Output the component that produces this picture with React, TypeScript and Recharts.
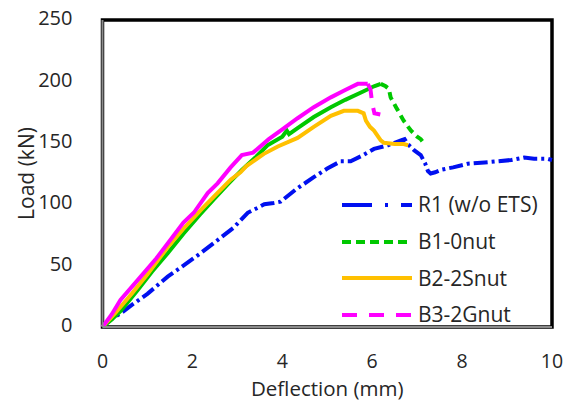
import React from 'react';
import { LineChart, Line, XAxis, YAxis, ReferenceArea, Legend } from 'recharts';

// ---- Data (deflection in mm, load in kN) ----
const r1X = [0, 0.18, 0.4, 0.69, 1.0, 1.45, 1.8, 2.18, 2.5, 2.92, 3.23, 3.45, 3.6, 3.81, 3.96, 4.3, 4.7, 5.0, 5.3, 5.52, 5.8, 6.04, 6.35, 6.64, 6.72, 6.79, 6.93, 7.08, 7.18, 7.24, 7.3, 7.4, 7.53, 7.8, 8.13, 8.5, 8.8, 9.1, 9.38, 9.6, 9.9, 10.0];
const r1Y = [0, 6, 11, 19, 27, 41, 50, 60, 69, 81, 93, 97, 100, 101, 102, 112, 122, 129, 135, 135, 140, 145, 148, 152, 153, 149, 144, 140, 133, 127, 125, 126, 128, 130, 133, 134, 135, 136, 138, 137, 137, 136];

const b1RiseX = [0, 0.2, 0.4, 0.78, 1.1, 1.45, 1.8, 2.18, 2.5, 2.78, 3.1, 3.4, 3.67, 4.0, 4.1, 4.15, 4.34, 4.7, 5.08, 5.4, 5.81, 6.04, 6.19];
const b1RiseY = [0, 6, 13, 30, 45, 60, 76, 92, 105, 116, 128, 138, 148, 155, 160, 157, 162, 171, 179, 185, 192, 196, 198];
const b1TailX = [6.19, 6.3, 6.37, 6.41, 6.53, 6.7, 6.86, 7.0, 7.08, 7.12];
const b1TailY = [198, 196, 194, 187, 179, 168, 160, 155, 153, 151];

const b2X = [0, 0.3, 0.65, 1.0, 1.45, 1.8, 2.18, 2.5, 2.85, 3.07, 3.2, 3.59, 3.9, 4.34, 4.7, 5.08, 5.37, 5.68, 5.81, 5.86, 5.95, 6.04, 6.19, 6.26, 6.5, 6.7, 6.8];
const b2Y = [0, 12, 27, 43, 65, 80, 95, 107, 120, 126, 131, 141, 147, 154, 163, 172, 176, 176, 174, 168, 163, 160, 152, 150, 149, 149, 148];

const b3RiseX = [0, 0.2, 0.4, 0.85, 1.2, 1.45, 1.8, 2.03, 2.34, 2.56, 2.85, 3.1, 3.35, 3.7, 4.0, 4.34, 4.7, 5.08, 5.4, 5.68, 5.9];
const b3RiseY = [0, 10, 22, 41, 56, 68, 85, 93, 109, 117, 130, 140, 142, 153, 161, 170, 179, 187, 193, 198, 198];
const b3TailX = [5.9, 5.96, 6.0, 6.05, 6.18];
const b3TailY = [198, 194, 182, 174, 173];

const xTicks = [0, 2, 4, 6, 8, 10];
const yTicks = [0, 50, 100, 150, 200, 250];
const seriesNames = ['R1 (w/o ETS)', 'B1-0nut', 'B2-2Snut', 'B3-2Gnut'];

// ---- Styles ----
const FONT = '"Open Sans", "Noto Sans", sans-serif';
const TEXT = '#262626';
const COLORS = ['#0010F0', '#00C800', '#FFC000', '#FF00FF'];
const LEGEND_DASH = ['30 13 3 13', '9 5', '', '15 12'];

const pts = (xs: number[], ys: number[]) => xs.map((x, i) => ({ x, y: ys[i] }));

const YLabel = (props: any) => {
  const vb = props.viewBox || {};
  const cx = vb.x + 26;
  const cy = vb.y + vb.height / 2;
  return (
    <text x={cx} y={cy} transform={`rotate(-90 ${cx} ${cy})`} textAnchor="middle" dominantBaseline="central"
      fontFamily={FONT} fontSize={21} fill={TEXT}>Load (kN)</text>
  );
};

const XLabel = (props: any) => {
  const vb = props.viewBox || {};
  return (
    <text x={vb.x + vb.width / 2} y={vb.y + 68.5} textAnchor="middle" fontFamily={FONT} fontSize={20.5} fill={TEXT}>
      Deflection (mm)
    </text>
  );
};

const LegendContent = () => (
  <div style={{ fontFamily: FONT, fontSize: 21, color: TEXT }}>
    {seriesNames.map((n, i) => (
      <div key={n} style={{ display: 'flex', alignItems: 'center', height: 36.7 }}>
        <svg width={74} height={8} style={{ display: 'block' }}>
          <line x1={2} y1={4} x2={72} y2={4} stroke={COLORS[i]} strokeWidth={4}
            strokeDasharray={LEGEND_DASH[i] || undefined} />
        </svg>
        <span style={{ marginLeft: 4, lineHeight: 1, whiteSpace: 'nowrap' }}>{n}</span>
      </div>
    ))}
  </div>
);

export default function App() {
  const xTickStyle = { fontFamily: FONT, fontSize: 19.5, fill: TEXT };
  const yTickStyle = { fontFamily: FONT, fontSize: 20, fill: TEXT, dy: -2 };
  return (
    <div style={{ position: 'absolute', left: 0, top: 0, background: '#fff' }}>
      <LineChart width={571} height={405} margin={{ top: 20, right: 19, bottom: 0, left: 0 }}>
        <XAxis type="number" dataKey="x" domain={[0, 10]} ticks={xTicks} height={78}
          tickSize={0} tickMargin={27} tick={xTickStyle}
          axisLine={{ stroke: '#8c8c8c', strokeWidth: 2 }} label={<XLabel />} />
        <YAxis type="number" dataKey="y" domain={[0, 250]} ticks={yTicks} width={102.5}
          tickSize={0} tickMargin={30} tick={yTickStyle}
          axisLine={{ stroke: '#8c8c8c', strokeWidth: 2 }} label={<YLabel />} />
        <ReferenceArea x1={0} x2={10} y1={0} y2={250} fill="none" stroke="#000" strokeWidth={3.5} />
        <Line data={pts(r1X, r1Y)} dataKey="y" stroke={COLORS[0]} strokeWidth={4}
          strokeDasharray="14 4 3 4" dot={false} isAnimationActive={false} />
        <Line data={pts(b1RiseX, b1RiseY)} dataKey="y" stroke={COLORS[1]} strokeWidth={4}
          dot={false} isAnimationActive={false} />
        <Line data={pts(b1TailX, b1TailY)} dataKey="y" stroke={COLORS[1]} strokeWidth={4}
          strokeDasharray="8 5" dot={false} isAnimationActive={false} />
        <Line data={pts(b2X, b2Y)} dataKey="y" stroke={COLORS[2]} strokeWidth={4}
          dot={false} isAnimationActive={false} />
        <Line data={pts(b3RiseX, b3RiseY)} dataKey="y" stroke={COLORS[3]} strokeWidth={4}
          dot={false} isAnimationActive={false} />
        <Line data={pts(b3TailX, b3TailY)} dataKey="y" stroke={COLORS[3]} strokeWidth={4}
          strokeDasharray="15 10" dot={false} isAnimationActive={false} />
        <Legend layout="vertical" align="center" verticalAlign="middle" content={<LegendContent />}
          wrapperStyle={{ left: 340, top: 186.5, width: 215 }} />
      </LineChart>
    </div>
  );
}
